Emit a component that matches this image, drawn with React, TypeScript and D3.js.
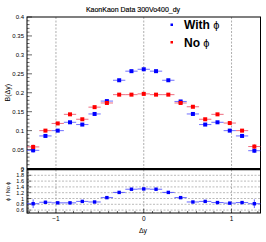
import React from "react";
import * as d3 from "d3";

const binCenters = [-1.26, -1.12, -0.98, -0.84, -0.7, -0.56, -0.42, -0.28, -0.14, 0, 0.14, 0.28, 0.42, 0.56, 0.7, 0.84, 0.98, 1.12, 1.26];
const binHalfWidth = 0.07;
const withPhi = [0.048, 0.086, 0.1, 0.122, 0.116, 0.144, 0.178, 0.233, 0.257, 0.262, 0.257, 0.233, 0.177, 0.144, 0.116, 0.122, 0.1, 0.086, 0.047];
const withPhiErr = [0.006, 0.004, 0.003, 0.003, 0.003, 0.003, 0.003, 0.003, 0.003, 0.003, 0.003, 0.003, 0.003, 0.003, 0.003, 0.003, 0.003, 0.004, 0.006];
const noPhi = [0.057, 0.1, 0.119, 0.143, 0.13, 0.162, 0.173, 0.195, 0.195, 0.197, 0.195, 0.195, 0.173, 0.163, 0.13, 0.143, 0.12, 0.1, 0.058];
const noPhiErr = [0.006, 0.004, 0.003, 0.003, 0.003, 0.003, 0.003, 0.003, 0.003, 0.003, 0.003, 0.003, 0.003, 0.003, 0.003, 0.003, 0.003, 0.004, 0.006];
const ratio = [0.82, 0.87, 0.85, 0.85, 0.9, 0.88, 1.03, 1.21, 1.32, 1.33, 1.32, 1.21, 1.03, 0.88, 0.9, 0.86, 0.84, 0.86, 0.82];
const ratioErr = [0.15, 0.05, 0.04, 0.03, 0.03, 0.03, 0.02, 0.02, 0.02, 0.02, 0.02, 0.02, 0.02, 0.03, 0.03, 0.03, 0.04, 0.05, 0.15];
const topTicks = [0, 0.05, 0.1, 0.15, 0.2, 0.25, 0.3, 0.35, 0.4];
const bottomTicks = [0.6, 0.8, 1, 1.2, 1.4, 1.6, 1.8, 2];
const xTicks = [-1, 0, 1];
const title = "KaonKaon Data 300Vo400_dy";

const W = 266, H = 242;
const L = 27, R = 260.5;
const T1 = 17, B1 = 168.5;
const T2 = 169.5, B2 = 213;
const FONT = "'Liberation Sans', Arial, sans-serif";

export default function App() {
  const x = d3.scaleLinear().domain([-1.33, 1.33]).range([L, R]);
  const yTop = d3.scaleLinear().domain([0, 0.4]).range([B1, T1]);
  const yBot = d3.scaleLinear().domain([0.5, 2.0]).range([B2, T2]);

  const topMinor = d3.range(0, 0.4001, 0.01);
  const botMinor = d3.range(0.5, 2.0001, 0.05);
  const xMinor = d3.range(-1.3, 1.3001, 0.1);

  const series = [
    { vals: withPhi, errs: withPhiErr, color: "#0000ff", bar: "rgba(50,50,255,0.7)" },
    { vals: noPhi, errs: noPhiErr, color: "#ff0000", bar: "rgba(230,30,60,0.65)" },
  ];

  return (
    <svg width={W} height={H} style={{ position: "absolute", left: 0, top: 0, background: "#fff" }} fontFamily={FONT}>
      <rect x={0} y={0} width={W} height={H} fill="#fff" />
      <text x={133} y={12} fontSize={7} textAnchor="middle" fill="#000" stroke="#000" strokeWidth={0.15}>{title}</text>

      {xTicks.map((t) => (
        <g key={"vd" + t}>
          <line x1={x(t)} x2={x(t)} y1={T1} y2={B1} stroke="#999" strokeWidth={0.8} strokeDasharray="2,1.5" />
          <line x1={x(t)} x2={x(t)} y1={T2} y2={B2} stroke="#999" strokeWidth={0.8} strokeDasharray="2,1.5" />
        </g>
      ))}
      {bottomTicks.filter((t) => t < 2).map((t) => (
        <line key={"hd" + t} x1={L} x2={R} y1={yBot(t)} y2={yBot(t)} stroke="#aaa" strokeWidth={0.8} strokeDasharray="2,1.5" />
      ))}

      <rect x={L} y={T1} width={R - L} height={B1 - T1} fill="none" stroke="#000" strokeWidth={1} />
      <rect x={L} y={T2} width={R - L} height={B2 - T2} fill="none" stroke="#000" strokeWidth={1} />
      <line x1={L} x2={R} y1={T2} y2={T2} stroke="#000" strokeWidth={1.3} />

      {topMinor.map((t, i) => {
        const major = i % 5 === 0;
        return <line key={"tm" + i} x1={L} x2={L + (major ? 5 : 2.5)} y1={yTop(t)} y2={yTop(t)} stroke="#000" strokeWidth={0.6} />;
      })}
      {topTicks.map((t) => (
        <text key={"tl" + t} x={L - 3} y={yTop(t) + 2} fontSize={6} textAnchor="end" fill="#000">{t === 0 ? "0" : String(t)}</text>
      ))}
      {botMinor.map((t, i) => {
        const major = i % 4 === 2 || i % 4 === 0 ? (i % 4 === 2) : false;
        return <line key={"bm" + i} x1={L} x2={L + (major ? 4 : 2)} y1={yBot(t)} y2={yBot(t)} stroke="#000" strokeWidth={0.6} />;
      })}
      {bottomTicks.map((t) => (
        <text key={"bl" + t} x={L - 3} y={yBot(t) + 2} fontSize={5.5} textAnchor="end" fill="#000">{String(t)}</text>
      ))}
      {xMinor.map((t, i) => {
        const major = xTicks.some((m) => Math.abs(m - t) < 1e-6);
        return <line key={"xm" + i} x1={x(t)} x2={x(t)} y1={B2} y2={B2 - (major ? 4 : 2)} stroke="#000" strokeWidth={0.6} />;
      })}
      {xTicks.map((t) => (
        <text key={"xl" + t} x={x(t)} y={220.5} fontSize={6.5} textAnchor="middle" fill="#000">{t < 0 ? "\u2212" + Math.abs(t) : String(t)}</text>
      ))}

      <text x={143} y={233} fontSize={7} textAnchor="middle" fill="#000">Δy</text>
      <text transform={`translate(10,${(T1 + B1) / 2}) rotate(-90)`} fontSize={7} textAnchor="middle" fill="#000">B(Δy)</text>
      <text transform={`translate(10,${(T2 + B2) / 2}) rotate(-90)`} fontSize={5.5} textAnchor="middle" fill="#000">ϕ / No ϕ</text>

      {series.map((s, si) => (
        <g key={"s" + si}>
          {binCenters.map((c, i) => (
            <g key={i}>
              <line x1={x(c - binHalfWidth)} x2={x(c + binHalfWidth)} y1={yTop(s.vals[i])} y2={yTop(s.vals[i])} stroke={s.bar} strokeWidth={1} />
              <line x1={x(c)} x2={x(c)} y1={yTop(s.vals[i] - s.errs[i])} y2={yTop(s.vals[i] + s.errs[i])} stroke={s.bar} strokeWidth={1} />
              <rect x={x(c) - 2} y={yTop(s.vals[i]) - 2} width={4} height={4} fill={s.color} />
            </g>
          ))}
        </g>
      ))}

      {binCenters.map((c, i) => (
        <g key={"r" + i}>
          <line x1={x(c - binHalfWidth)} x2={x(c + binHalfWidth)} y1={yBot(ratio[i])} y2={yBot(ratio[i])} stroke="rgba(50,50,255,0.75)" strokeWidth={1} />
          <line x1={x(c)} x2={x(c)} y1={yBot(ratio[i] - ratioErr[i])} y2={yBot(ratio[i] + ratioErr[i])} stroke="rgba(50,50,255,0.75)" strokeWidth={1} />
          <rect x={x(c) - 1.7} y={yBot(ratio[i]) - 1.7} width={3.4} height={3.4} fill="#0000ff" />
        </g>
      ))}

      <rect x={170.5} y={23.5} width={2.5} height={2.5} fill="#0000ff" />
      <text x={184} y={29} fontSize={12} fontWeight="bold" fill="#000">With <tspan fontWeight="normal" fontSize={11}>ϕ</tspan></text>
      <rect x={170.5} y={41} width={2.5} height={2.5} fill="#ff0000" />
      <text x={184} y={46.5} fontSize={12} fontWeight="bold" fill="#000">No <tspan fontWeight="normal" fontSize={11}>ϕ</tspan></text>
    </svg>
  );
}
